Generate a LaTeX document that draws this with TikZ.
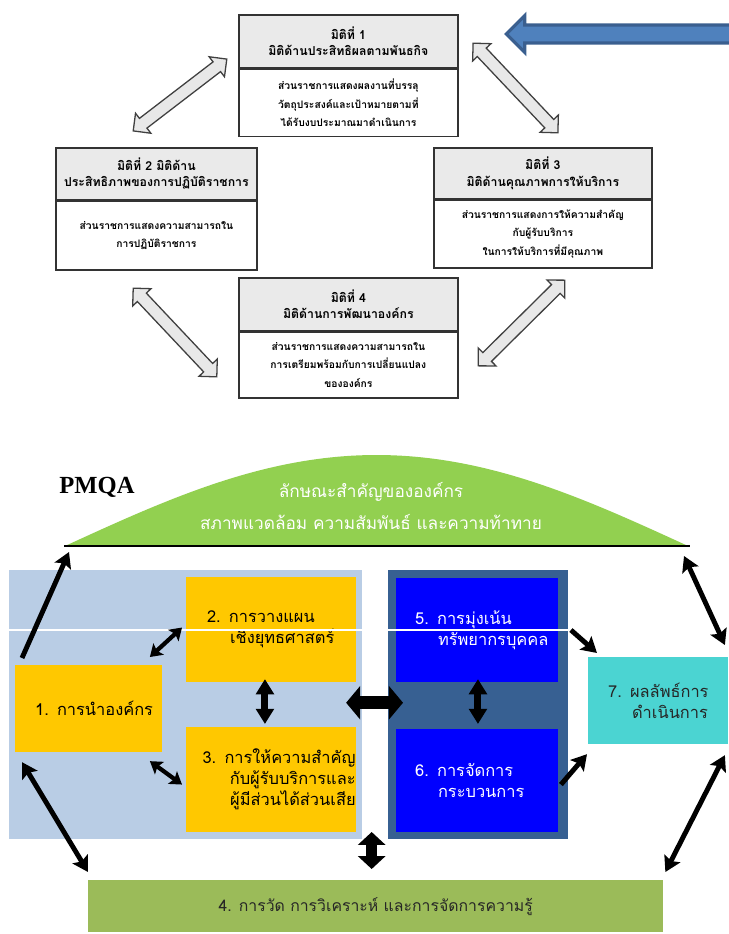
\documentclass[tikz,border=0pt]{standalone}
\usepackage{fontspec}
\setmainfont{Liberation Serif}
\newfontfamily\thaifont[Script=Thai]{Loma}
\usetikzlibrary{arrows.meta,positioning,calc,shapes.arrows}

\definecolor{headgray}{HTML}{EAEAEA}
\definecolor{hollowgray}{HTML}{E8E8E8}
\definecolor{arrowblue}{HTML}{4F81BD}
\definecolor{arrowedge}{HTML}{3A5F8F}
\definecolor{lightpanel}{HTML}{B9CDE5}
\definecolor{darkpanel}{HTML}{376092}
\definecolor{gold}{HTML}{FFC800}
\definecolor{pureblue}{HTML}{0000FF}
\definecolor{cyanbox}{HTML}{4BD4D2}
\definecolor{olive}{HTML}{9BBB59}
\definecolor{humpgreen}{HTML}{92D050}

\tikzset{
  dimhead/.style={draw=black!80, line width=1.3pt, fill=headgray, anchor=north west,
    align=center, inner sep=0pt, font=\thaifont\bfseries\fontsize{10.5}{14}\selectfont},
  dimbody/.style={draw=black!80, line width=1.3pt, fill=white, align=center,
    inner sep=0pt, font=\thaifont\bfseries\fontsize{8.8}{15.5}\selectfont},
  hollowarrow/.style={double arrow, draw=black!75, line width=1.1pt, fill=hollowgray,
    inner sep=4.7pt, double arrow head extend=5.5pt, minimum width=21pt},
  panel/.style={anchor=north west, inner sep=0pt},
  textbox/.style={anchor=north west, inner sep=0pt, align=left,
    font=\thaifont\fontsize{14}{18}\selectfont},
  linkarrow/.style={line width=4.2pt, -{Stealth[length=13pt,width=15pt,inset=2.5pt]}},
  twinarrow/.style={line width=3.6pt,
    {Stealth[length=10pt,width=13pt,inset=2pt]}-{Stealth[length=10pt,width=13pt,inset=2pt]}},
  longtwin/.style={line width=4.2pt,
    {Stealth[length=13pt,width=15pt,inset=2.5pt]}-{Stealth[length=13pt,width=15pt,inset=2.5pt]}},
  stackarrow/.style={line width=6pt,
    {Triangle[length=13pt,width=15pt]}-{Triangle[length=13pt,width=15pt]}},
  bigarrow/.style={line width=11pt,
    {Triangle[length=12pt,width=28pt]}-{Triangle[length=12pt,width=28pt]}},
  droparrow/.style={line width=9pt,
    {Triangle[length=11pt,width=23pt]}-{Triangle[length=11pt,width=23pt]}},
}

\begin{document}
\begin{tikzpicture}[x=0.03cm,y=-0.03cm]
  \useasboundingbox (0,0) rectangle (728,934);

  \node[dimhead, minimum width=187.1pt, minimum height=45.1pt] (h1) at (238,14)
    {มิติที่ 1\\มิติด้านประสิทธิผลตามพันธกิจ};
  \node[dimbody, minimum width=187.1pt, minimum height=57.5pt, below=0pt of h1] (d1)
    {ส่วนราชการแสดงผลงานที่บรรลุ\\วัตถุประสงค์และเป้าหมายตามที่\\ได้รับงบประมาณมาดำเนินการ};
  \node[dimhead, minimum width=171.8pt, minimum height=44.2pt] (h2) at (55,147)
    {มิติที่ 2 มิติด้าน\\ประสิทธิภาพของการปฏิบัติราชการ};
  \node[dimbody, minimum width=171.8pt, minimum height=58.7pt, below=0pt of h2] (d2)
    {ส่วนราชการแสดงความสามารถใน\\การปฏิบัติราชการ};
  \node[dimhead, minimum width=186.2pt, minimum height=43.4pt] (h3) at (433,147)
    {มิติที่ 3\\มิติด้านคุณภาพการให้บริการ};
  \node[dimbody, minimum width=186.2pt, minimum height=57.8pt, below=0pt of h3] (d3)
    {ส่วนราชการแสดงการให้ความสำคัญ\\กับผู้รับบริการ\\ในการให้บริการที่มีคุณภาพ};
  \node[dimhead, minimum width=187.1pt, minimum height=45.1pt] (h4) at (238,277)
    {มิติที่ 4\\มิติด้านการพัฒนาองค์กร};
  \node[dimbody, minimum width=187.1pt, minimum height=56.1pt, below=0pt of h4] (d4)
    {ส่วนราชการแสดงความสามารถใน\\การเตรียมพร้อมกับการเปลี่ยนแปลง\\ขององค์กร};

  \node[hollowarrow, minimum height=100.7pt, rotate=37.5] (link21) at (180,95) {};
  \node[hollowarrow, minimum height=105.3pt, rotate=-46.6] (link13) at (515.5,88) {};
  \node[hollowarrow, minimum height=104pt, rotate=-46.7] (link24) at (175,332.5) {};
  \node[hollowarrow, minimum height=104pt, rotate=44.7] (link34) at (521.5,323) {};

  \node[single arrow, fill=arrowblue, draw=arrowedge, line width=2.8pt, inner sep=6.3pt,
    single arrow head extend=8.1pt, minimum width=29pt, minimum height=200pt,
    shape border rotate=180, anchor=tip] (inflow) at (504,34) {};

  \fill[humpgreen] (65,546) -- plot[domain=65:688, samples=90]
    (\x,{546-91*sin(0.2889*(\x-65))}) -- cycle;
  \coordinate (bl) at (64,546);
  \coordinate (br) at (690,546);
  \draw[line width=2.2pt] (bl) -- (br);
  \node[font=\thaifont\fontsize{14.7}{27}\selectfont, text=white, align=center] (trait)
    at (371,506) {ลักษณะสำคัญขององค์กร\\สภาพแวดล้อม ความสัมพันธ์ และความท้าทาย};
  \node[font=\bfseries\fontsize{21}{21}\selectfont] (pmqa) at (97,487) {PMQA};

  \node[panel, fill=lightpanel, minimum width=301pt, minimum height=229.6pt] (lp) at (9,570) {};
  \node[panel, fill=darkpanel, minimum width=153.1pt, minimum height=229.6pt] (dp) at (388,570) {};

  \node[textbox, fill=gold, minimum width=125pt, text width=125pt, minimum height=74pt] (y1)
    at (15,665) {\hspace*{17pt}1. การนำองค์กร};
  \node[textbox, fill=gold, minimum width=144.6pt, text width=144.6pt, minimum height=89.3pt] (y2)
    at (186,577) {\hspace*{17.8pt}2. การวางแผน\\\hspace*{37.4pt}เชิงยุทธศาสตร์};
  \node[textbox, fill=gold, minimum width=144.6pt, text width=144.6pt, minimum height=89.3pt,
    align=right] (y3) at (186,727)
    {3. การให้ความสำคัญ\hspace*{7.7pt}\\กับผู้รับบริการและ\hspace*{7.7pt}\\ผู้มีส่วนได้ส่วนเสีย\hspace*{10pt}};
  \node[textbox, fill=pureblue, text=white, minimum width=137.8pt, text width=137.8pt,
    minimum height=88.4pt] (b5) at (396,578) {\hspace*{16.2pt}5. การมุ่งเน้น\\\hspace*{35.7pt}ทรัพยากรบุคคล};
  \node[textbox, fill=pureblue, text=white, minimum width=137.8pt, text width=137.8pt,
    minimum height=87.6pt] (b6) at (396,729) {\hspace*{16.2pt}6. การจัดการ\\\hspace*{35.7pt}กระบวนการ};
  \node[textbox, fill=cyanbox, text=black!85, minimum width=119pt, text width=119pt,
    minimum height=74pt] (c7) at (588,657) {\hspace*{17pt}7. ผลลัพธ์การ\\\hspace*{37.4pt}ดำเนินการ};
  \node[panel, fill=olive, text=black!85, minimum width=490.7pt, minimum height=44.2pt,
    font=\thaifont\fontsize{13.5}{16}\selectfont] (g4) at (88,880)
    {4. การวัด การวิเคราะห์ และการจัดการความรู้};

  \draw[white, line width=0.9pt] (9,630) -- (568,630);

  \draw[linkarrow] ($(y1.north west)+(7,-7)$) -- ($(bl)+(5,6)$);
  \draw[twinarrow] ($(y1.north east)+(-12,-8)$) -- ($(y2.west)+(-4,-2)$);
  \draw[twinarrow] ($(y1.south east)+(-12,9)$) -- ($(y3.west)+(-4,5)$);
  \draw[stackarrow] ($(y2.south)+(-6,-3)$) -- ($(y3.north)+(-6,-3)$);
  \draw[stackarrow] ($(b5.south)+(1,-3)$) -- ($(b6.north)+(1,-5)$);
  \draw[bigarrow] ($(lp.east)+(-16,-2)$) -- ($(dp.west)+(15,-2)$);
  \draw[droparrow] ($(g4.north)+(-4,-48)$) -- ($(g4.north)+(-4,-11)$);
  \draw[linkarrow] ($(b5.east)+(13,0)$) -- ($(c7.north west)+(9,-4)$);
  \draw[linkarrow] ($(b6.east)+(3,4)$) -- ($(c7.south west)+(-1,10)$);
  \draw[longtwin] ($(br)+(-6,10)$) -- ($(c7.north east)+(-3,-12)$);
  \draw[longtwin] ($(c7.south east)+(-3,11)$) -- ($(g4.north east)+(2,-8)$);
  \draw[longtwin] ($(y1.south west)+(7,10)$) -- ($(g4.north west)+(0,-8)$);
\end{tikzpicture}
\end{document}
